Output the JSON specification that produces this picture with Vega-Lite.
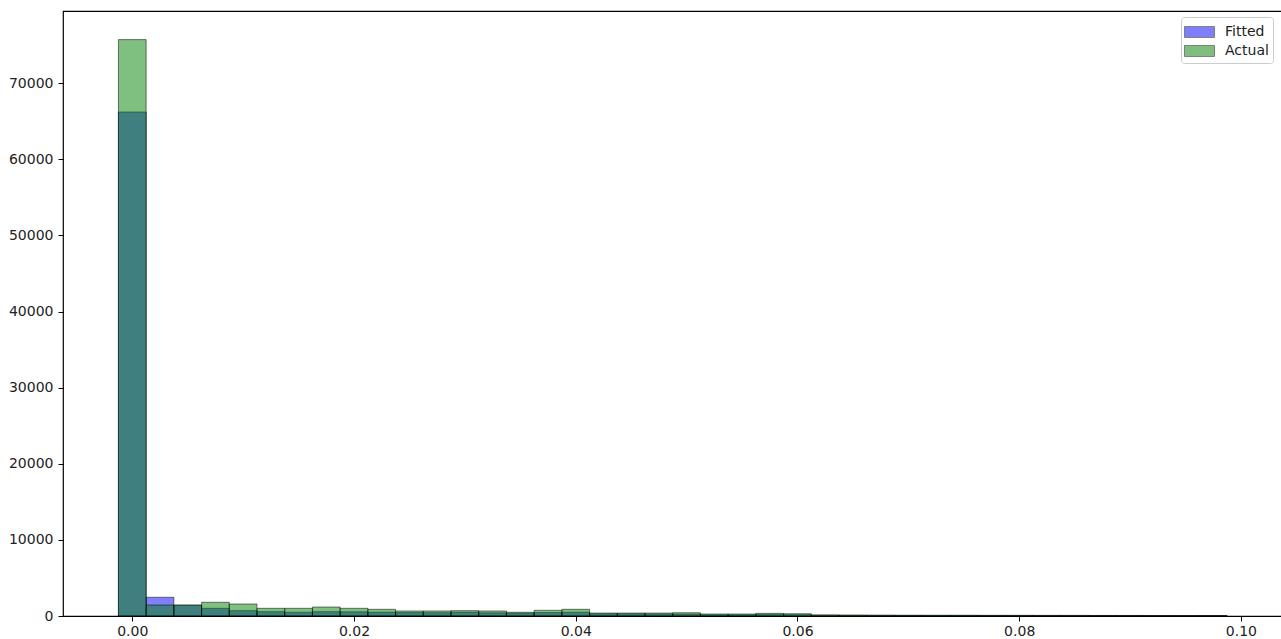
{
  "$schema": "https://vega.github.io/schema/vega-lite/v6.json",
  "width": 1219.5,
  "height": 605,
  "autosize": {"type": "none"},
  "padding": {"left": 63, "top": 11, "right": 0, "bottom": 23},
  "background": "white",
  "config": {
    "font": "DejaVu Sans",
    "view": {"stroke": "#000", "strokeWidth": 1.2},
    "axis": {
      "domain": false,
      "grid": false,
      "ticks": true,
      "tickColor": "#000",
      "tickSize": 5,
      "tickWidth": 1,
      "labelFont": "DejaVu Sans",
      "labelFontSize": 14,
      "labelColor": "#222",
      "title": null
    }
  },
  "data": {
    "values": [
      {"series": "Fitted", "bin_start": -0.00125, "bin_end": 0.00125, "count": 66230},
      {"series": "Fitted", "bin_start": 0.00125, "bin_end": 0.00375, "count": 2460},
      {"series": "Fitted", "bin_start": 0.00375, "bin_end": 0.00625, "count": 1420},
      {"series": "Fitted", "bin_start": 0.00625, "bin_end": 0.00875, "count": 1010},
      {"series": "Fitted", "bin_start": 0.00875, "bin_end": 0.01125, "count": 700},
      {"series": "Fitted", "bin_start": 0.01125, "bin_end": 0.01375, "count": 570},
      {"series": "Fitted", "bin_start": 0.01375, "bin_end": 0.01625, "count": 490},
      {"series": "Fitted", "bin_start": 0.01625, "bin_end": 0.01875, "count": 570},
      {"series": "Fitted", "bin_start": 0.01875, "bin_end": 0.02125, "count": 550},
      {"series": "Fitted", "bin_start": 0.02125, "bin_end": 0.02375, "count": 500},
      {"series": "Fitted", "bin_start": 0.02375, "bin_end": 0.02625, "count": 450},
      {"series": "Fitted", "bin_start": 0.02625, "bin_end": 0.02875, "count": 430},
      {"series": "Fitted", "bin_start": 0.02875, "bin_end": 0.03125, "count": 500},
      {"series": "Fitted", "bin_start": 0.03125, "bin_end": 0.03375, "count": 420},
      {"series": "Fitted", "bin_start": 0.03375, "bin_end": 0.03625, "count": 350},
      {"series": "Fitted", "bin_start": 0.03625, "bin_end": 0.03875, "count": 450},
      {"series": "Fitted", "bin_start": 0.03875, "bin_end": 0.04125, "count": 500},
      {"series": "Fitted", "bin_start": 0.04125, "bin_end": 0.04375, "count": 280},
      {"series": "Fitted", "bin_start": 0.04375, "bin_end": 0.04625, "count": 280},
      {"series": "Fitted", "bin_start": 0.04625, "bin_end": 0.04875, "count": 260},
      {"series": "Fitted", "bin_start": 0.04875, "bin_end": 0.05125, "count": 250},
      {"series": "Fitted", "bin_start": 0.05125, "bin_end": 0.05375, "count": 150},
      {"series": "Fitted", "bin_start": 0.05375, "bin_end": 0.05625, "count": 150},
      {"series": "Fitted", "bin_start": 0.05625, "bin_end": 0.05875, "count": 200},
      {"series": "Fitted", "bin_start": 0.05875, "bin_end": 0.06125, "count": 170},
      {"series": "Fitted", "bin_start": 0.06125, "bin_end": 0.06375, "count": 80},
      {"series": "Fitted", "bin_start": 0.06375, "bin_end": 0.06625, "count": 70},
      {"series": "Fitted", "bin_start": 0.06625, "bin_end": 0.06875, "count": 65},
      {"series": "Fitted", "bin_start": 0.06875, "bin_end": 0.07125, "count": 60},
      {"series": "Fitted", "bin_start": 0.07125, "bin_end": 0.07375, "count": 55},
      {"series": "Fitted", "bin_start": 0.07375, "bin_end": 0.07625, "count": 50},
      {"series": "Fitted", "bin_start": 0.07625, "bin_end": 0.07875, "count": 50},
      {"series": "Fitted", "bin_start": 0.07875, "bin_end": 0.08125, "count": 45},
      {"series": "Fitted", "bin_start": 0.08125, "bin_end": 0.08375, "count": 45},
      {"series": "Fitted", "bin_start": 0.08375, "bin_end": 0.08625, "count": 40},
      {"series": "Fitted", "bin_start": 0.08625, "bin_end": 0.08875, "count": 40},
      {"series": "Fitted", "bin_start": 0.08875, "bin_end": 0.09125, "count": 35},
      {"series": "Fitted", "bin_start": 0.09125, "bin_end": 0.09375, "count": 35},
      {"series": "Fitted", "bin_start": 0.09375, "bin_end": 0.09625, "count": 30},
      {"series": "Fitted", "bin_start": 0.09625, "bin_end": 0.09875, "count": 30},
      {"series": "Actual", "bin_start": -0.00125, "bin_end": 0.00125, "count": 75740},
      {"series": "Actual", "bin_start": 0.00125, "bin_end": 0.00375, "count": 1440},
      {"series": "Actual", "bin_start": 0.00375, "bin_end": 0.00625, "count": 1440},
      {"series": "Actual", "bin_start": 0.00625, "bin_end": 0.00875, "count": 1800},
      {"series": "Actual", "bin_start": 0.00875, "bin_end": 0.01125, "count": 1580},
      {"series": "Actual", "bin_start": 0.01125, "bin_end": 0.01375, "count": 1010},
      {"series": "Actual", "bin_start": 0.01375, "bin_end": 0.01625, "count": 1010},
      {"series": "Actual", "bin_start": 0.01625, "bin_end": 0.01875, "count": 1180},
      {"series": "Actual", "bin_start": 0.01875, "bin_end": 0.02125, "count": 1010},
      {"series": "Actual", "bin_start": 0.02125, "bin_end": 0.02375, "count": 880},
      {"series": "Actual", "bin_start": 0.02375, "bin_end": 0.02625, "count": 660},
      {"series": "Actual", "bin_start": 0.02625, "bin_end": 0.02875, "count": 660},
      {"series": "Actual", "bin_start": 0.02875, "bin_end": 0.03125, "count": 700},
      {"series": "Actual", "bin_start": 0.03125, "bin_end": 0.03375, "count": 660},
      {"series": "Actual", "bin_start": 0.03375, "bin_end": 0.03625, "count": 490},
      {"series": "Actual", "bin_start": 0.03625, "bin_end": 0.03875, "count": 750},
      {"series": "Actual", "bin_start": 0.03875, "bin_end": 0.04125, "count": 880},
      {"series": "Actual", "bin_start": 0.04125, "bin_end": 0.04375, "count": 390},
      {"series": "Actual", "bin_start": 0.04375, "bin_end": 0.04625, "count": 390},
      {"series": "Actual", "bin_start": 0.04625, "bin_end": 0.04875, "count": 390},
      {"series": "Actual", "bin_start": 0.04875, "bin_end": 0.05125, "count": 430},
      {"series": "Actual", "bin_start": 0.05125, "bin_end": 0.05375, "count": 260},
      {"series": "Actual", "bin_start": 0.05375, "bin_end": 0.05625, "count": 260},
      {"series": "Actual", "bin_start": 0.05625, "bin_end": 0.05875, "count": 350},
      {"series": "Actual", "bin_start": 0.05875, "bin_end": 0.06125, "count": 300},
      {"series": "Actual", "bin_start": 0.06125, "bin_end": 0.06375, "count": 150},
      {"series": "Actual", "bin_start": 0.06375, "bin_end": 0.06625, "count": 130},
      {"series": "Actual", "bin_start": 0.06625, "bin_end": 0.06875, "count": 120},
      {"series": "Actual", "bin_start": 0.06875, "bin_end": 0.07125, "count": 110},
      {"series": "Actual", "bin_start": 0.07125, "bin_end": 0.07375, "count": 100},
      {"series": "Actual", "bin_start": 0.07375, "bin_end": 0.07625, "count": 100},
      {"series": "Actual", "bin_start": 0.07625, "bin_end": 0.07875, "count": 90},
      {"series": "Actual", "bin_start": 0.07875, "bin_end": 0.08125, "count": 90},
      {"series": "Actual", "bin_start": 0.08125, "bin_end": 0.08375, "count": 80},
      {"series": "Actual", "bin_start": 0.08375, "bin_end": 0.08625, "count": 80},
      {"series": "Actual", "bin_start": 0.08625, "bin_end": 0.08875, "count": 70},
      {"series": "Actual", "bin_start": 0.08875, "bin_end": 0.09125, "count": 70},
      {"series": "Actual", "bin_start": 0.09125, "bin_end": 0.09375, "count": 60},
      {"series": "Actual", "bin_start": 0.09375, "bin_end": 0.09625, "count": 60},
      {"series": "Actual", "bin_start": 0.09625, "bin_end": 0.09875, "count": 50}
    ]
  },
  "mark": {
    "type": "bar",
    "fillOpacity": 0.5,
    "stroke": "#000",
    "strokeOpacity": 0.5,
    "strokeWidth": 1
  },
  "encoding": {
    "x": {
      "field": "bin_start",
      "type": "quantitative",
      "scale": {"domain": [-0.00625, 0.10375], "nice": false, "zero": false},
      "axis": {"values": [0, 0.02, 0.04, 0.06, 0.08, 0.1], "format": ".2f", "labelPadding": 3}
    },
    "x2": {"field": "bin_end"},
    "y": {
      "field": "count",
      "type": "quantitative",
      "stack": null,
      "scale": {"domain": [0, 79500], "nice": false},
      "axis": {"values": [0, 10000, 20000, 30000, 40000, 50000, 60000, 70000], "format": "d", "labelPadding": 5}
    },
    "y2": {"datum": 0},
    "color": {
      "field": "series",
      "type": "nominal",
      "scale": {"domain": ["Fitted", "Actual"], "range": ["#0000ff", "#008000"]},
      "legend": {
        "orient": "none",
        "legendX": 1118,
        "legendY": 6,
        "title": null,
        "symbolType": "M-1.43,-0.52L1.43,-0.52L1.43,0.52L-1.43,0.52Z",
        "symbolSize": 441,
        "symbolOffset": 3.5,
        "symbolOpacity": 0.5,
        "symbolStrokeColor": "#000",
        "symbolStrokeWidth": 1,
        "labelOffset": 14.5,
        "labelFontSize": 14,
        "labelFont": "DejaVu Sans",
        "labelColor": "#222",
        "rowPadding": 0,
        "padding": 4,
        "strokeColor": "#cccccc",
        "fillColor": "white",
        "cornerRadius": 3
      }
    }
  }
}
